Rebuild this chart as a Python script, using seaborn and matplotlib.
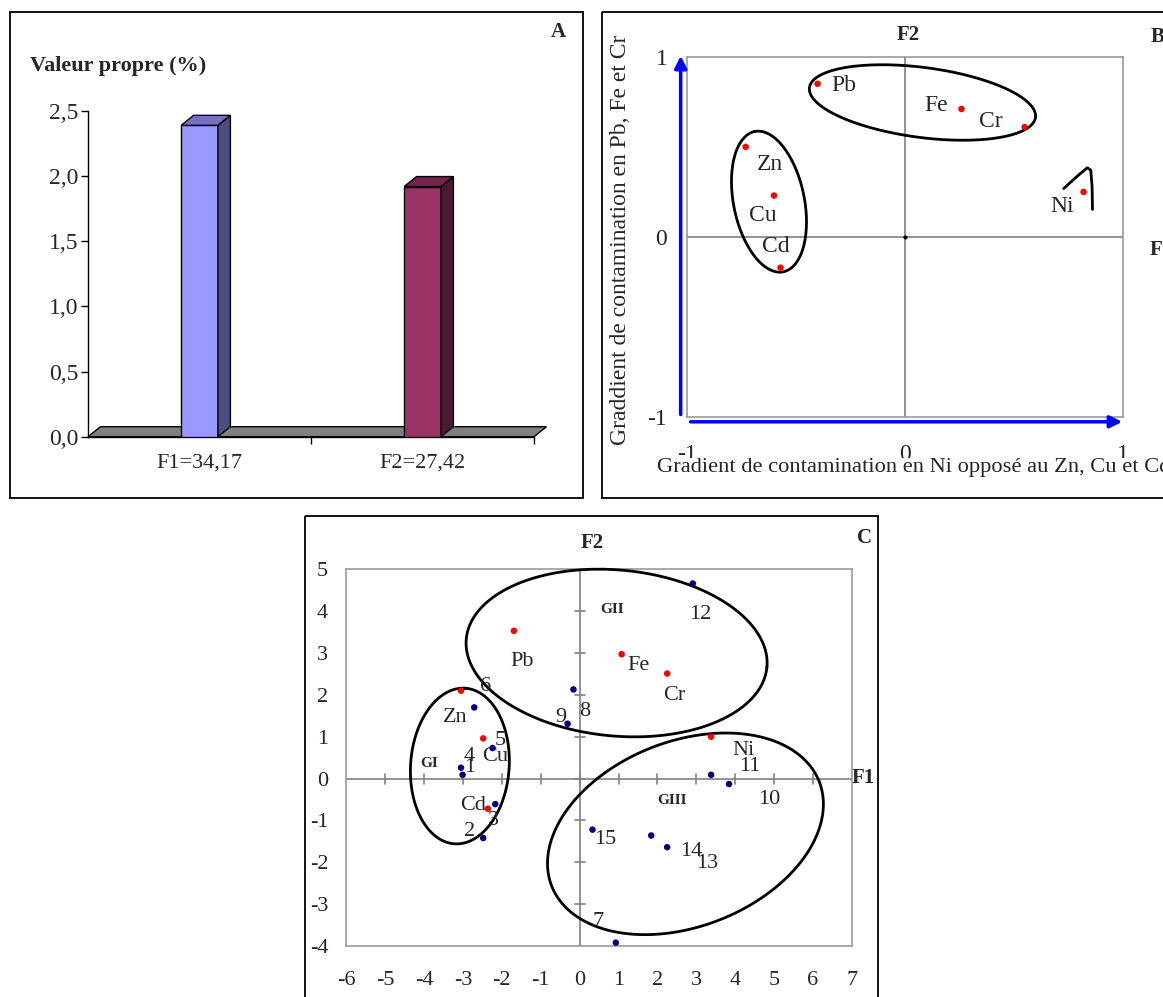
import numpy as np
import matplotlib
matplotlib.use("Agg")
import matplotlib.pyplot as plt
from matplotlib.patches import Polygon, Rectangle
from matplotlib.ticker import FuncFormatter
import seaborn as sns
import pandas as pd

# panel A - valeurs propres
axes_names = ["F1=34,17", "F2=27,42"]
eigen_values = [2.39, 1.92]
bar_colors = ["#9999FF", "#993366"]
side_colors = ["#4D4D80", "#4D1A33"]
top_colors = ["#7373BF", "#73264D"]

# panel B - metaux sur F1/F2
metals = ["Pb", "Fe", "Cr", "Zn", "Cu", "Cd", "Ni"]
corr_f1 = [-0.40, 0.26, 0.55, -0.73, -0.60, -0.57, 0.82]
corr_f2 = [0.85, 0.71, 0.61, 0.50, 0.23, -0.17, 0.25]

# panel C - metaux + stations
metal_f1 = [-1.69, 1.08, 2.25, -3.05, -2.48, -2.36, 3.38]
metal_f2 = [3.53, 2.97, 2.51, 2.10, 0.96, -0.72, 1.00]
sites = [str(i) for i in range(1, 16)]
site_f1 = [-3.01, -2.48, -2.17, -3.05, -2.24, -2.71, 0.93, -0.16, -0.31, 3.84, 3.38, 2.91, 1.84, 2.25, 0.33]
site_f2 = [0.09, -1.42, -0.61, 0.26, 0.73, 1.70, -3.92, 2.13, 1.31, -0.13, 0.09, 4.66, -1.36, -1.64, -1.22]

# label placement (layout only)
b_label_pos = [(-0.28, 0.84), (0.145, 0.73), (0.395, 0.64), (-0.62, 0.40), (-0.65, 0.12), (-0.59, -0.05), (0.72, 0.17)]
c_metal_pos = [(-1.49, 2.79), (1.52, 2.71), (2.43, 1.98), (-3.20, 1.45), (-2.17, 0.52), (-2.74, -0.64), (4.21, 0.68)]
c_site_pos = [(-2.82, 0.26), (-2.83, -1.26), (-2.22, -0.99), (-2.84, 0.52), (-2.03, 0.92), (-2.43, 2.20),
              (0.47, -3.41), (0.12, 1.60), (-0.48, 1.45), (4.88, -0.51), (4.38, 0.30), (3.10, 3.91),
              (3.27, -2.02), (2.86, -1.74), (0.67, -1.46)]

sns.set_theme(style="white")
plt.rcParams['font.family'] = ['Liberation Serif', 'DejaVu Serif']
plt.rcParams['axes.unicode_minus'] = False
FS = 16
FSB = 17

W, H = 1163, 997
fig = plt.figure(figsize=(W / 100, H / 100), dpi=100)


def box(x0, y0, x1, y1):
    return [x0 / W, 1 - y1 / H, (x1 - x0) / W, (y1 - y0) / H]


def ellipse(ax, cx, cy, a, b, ang):
    # ellipse drawn in pixel space so it keeps its shape
    t = np.linspace(0, 2 * np.pi, 300)
    c = ax.transData.transform((cx, cy))
    r = np.deg2rad(ang)
    px = c[0] + a * np.cos(t) * np.cos(r) - b * np.sin(t) * np.sin(r)
    py = c[1] + a * np.cos(t) * np.sin(r) + b * np.sin(t) * np.cos(r)
    d = ax.transData.inverted().transform(np.column_stack([px, py]))
    ax.plot(d[:, 0], d[:, 1], color='black', lw=2, clip_on=False, zorder=4)


# background: frames and free text
bg = fig.add_axes([0, 0, 1, 1])
bg.set_xlim(0, W)
bg.set_ylim(H, 0)
bg.axis('off')
for x0, y0, x1, y1 in [(10, 12, 583, 498), (602, 12, 1175, 498), (305, 516, 878, 1010)]:
    bg.add_patch(Rectangle((x0, y0), x1 - x0, y1 - y0, fill=False, ec='black', lw=1.3))
bg.text(558, 32, "A", fontsize=15, fontweight='bold', ha='center', va='center')
bg.text(1151, 37, "B", fontsize=15, fontweight='bold', ha='left', va='center')
bg.text(908, 35, "F2", fontsize=15, fontweight='bold', ha='center', va='center')
bg.text(1150, 250, "F1", fontsize=15, fontweight='bold', ha='left', va='center')
bg.text(864, 538, "C", fontsize=15, fontweight='bold', ha='center', va='center')
bg.text(592, 543, "F2", fontsize=15, fontweight='bold', ha='center', va='center')
bg.text(863, 778, "F1", fontsize=15, fontweight='bold', ha='center', va='center')
bg.text(30, 66, "Valeur propre (%)", fontsize=16, fontweight='bold', ha='left', va='center')

# ---------------- A
axA = fig.add_axes(box(88, 111, 534, 436.7))
df = pd.DataFrame({'axe': axes_names, 'val': eigen_values})
sns.barplot(data=df, x='axe', y='val', hue='axe', palette=bar_colors, width=0.165, saturation=1,
            edgecolor='black', linewidth=1, legend=False, ax=axA, zorder=3)
axA.set_xlim(-0.5, 1.5)
axA.set_ylim(0, 2.5)
bars = list(axA.patches)
sx = (axA.transData.inverted().transform((12.5, 0)) - axA.transData.inverted().transform((0, 0)))[0]
sy = (axA.transData.inverted().transform((0, 10)) - axA.transData.inverted().transform((0, 0)))[1]
axA.add_patch(Polygon([(-0.5, 0), (1.5, 0), (1.5 + sx, sy), (-0.5 + sx, sy)], closed=True,
                      fc='#808080', ec='black', lw=1, zorder=1, clip_on=False))
for i, p in enumerate(bars):
    x0, x1, h = p.get_x(), p.get_x() + p.get_width(), p.get_height()
    axA.add_patch(Polygon([(x1, 0), (x1 + sx, sy), (x1 + sx, h + sy), (x1, h)], closed=True,
                          fc=side_colors[i], ec='black', lw=1, zorder=3, clip_on=False))
    axA.add_patch(Polygon([(x0, h), (x0 + sx, h + sy), (x1 + sx, h + sy), (x1, h)], closed=True,
                          fc=top_colors[i], ec='black', lw=1, zorder=3, clip_on=False))
axA.set_xlabel("")
axA.set_ylabel("")
axA.set_yticks([0, 0.5, 1.0, 1.5, 2.0, 2.5])
axA.yaxis.set_major_formatter(FuncFormatter(lambda v, p: f"{v:.1f}".replace('.', ',')))
axA.set_xticks([0.5, 1.5], minor=True)
axA.tick_params(axis='y', left=True, length=5, width=1, direction='out', pad=2, labelsize=FSB, color='black')
axA.tick_params(axis='x', which='major', length=0, pad=12, labelsize=FS)
axA.tick_params(axis='x', which='minor', bottom=True, length=5, width=1, direction='out', color='black')
for s in ['top', 'right']:
    axA.spines[s].set_visible(False)
for s in ['left', 'bottom']:
    axA.spines[s].set_color('black')
    axA.spines[s].set_linewidth(1)
axA.patch.set_alpha(0)

# ---------------- B
axB = fig.add_axes(box(686.8, 56.7, 1122.8, 417.3))
axB.set_xlim(-1, 1)
axB.set_ylim(-1, 1)
axB.axhline(0, color='#808080', lw=1.2, zorder=1)
axB.axvline(0, color='#808080', lw=1.2, zorder=1)
sns.scatterplot(x=corr_f1, y=corr_f2, color='#FF0000', s=22, edgecolor='none', ax=axB, zorder=5)
axB.scatter([0], [0], color='black', s=4, zorder=5)
for name, (tx, ty) in zip(metals, b_label_pos):
    axB.text(tx, ty, name, fontsize=FSB, ha='center', va='center', zorder=6)
ellipse(axB, 0.081, 0.746, 114, 35, -7.5)
ellipse(axB, -0.623, 0.196, 71.6, 35.4, 101.5)
# Ni hook
hook_x = [0.729, 0.790, 0.837, 0.853, 0.859, 0.861]
hook_y = [0.269, 0.336, 0.384, 0.371, 0.283, 0.153]
axB.plot(hook_x, hook_y, color='black', lw=2, zorder=4)
axB.annotate("", xy=(-1.028, 1.02), xytext=(-1.028, -1.0),
             arrowprops=dict(arrowstyle='-|>', color='#0000FF', lw=2.5, mutation_scale=18), annotation_clip=False)
axB.annotate("", xy=(1.01, -1.025), xytext=(-0.995, -1.025),
             arrowprops=dict(arrowstyle='-|>', color='#0000FF', lw=2.5, mutation_scale=18), annotation_clip=False)
axB.set_xticks([-1, 0, 1])
axB.set_yticks([-1, 0, 1])
axB.set_xticklabels(["-1", "0", "1"])
axB.set_yticklabels(["-1", "0", "1"])
axB.tick_params(axis='both', length=0, labelsize=FSB)
axB.tick_params(axis='x', pad=19)
axB.tick_params(axis='y', pad=14)
for s in axB.spines.values():
    s.set_color('#999999')
    s.set_linewidth(1.2)
axB.set_xlabel("Gradient de contamination en Ni opposé au Zn, Cu et Cd", fontsize=16.2, ha='left',
               bbox=dict(facecolor='white', edgecolor='none', pad=0))
axB.xaxis.set_label_coords((657 - 686.8) / 436, (417.3 - 458) / 360.6)
axB.set_ylabel("Graddient de contamination en Pb, Fe et Cr", fontsize=FSB)
axB.yaxis.set_label_coords((630.5 - 686.8) / 436, (417.3 - 240) / 360.6)

# ---------------- C
axC = fig.add_axes(box(346.3, 569.3, 851.9, 946))
axC.set_xlim(-6, 7)
axC.set_ylim(-4, 5)
axC.axhline(0, color='#808080', lw=1.2, zorder=1)
axC.axvline(0, color='#808080', lw=1.2, zorder=1)
for v in range(-5, 7):
    axC.plot([v, v], [-0.12, 0.12], color='#808080', lw=1.2, zorder=1)
for v in range(-3, 5):
    axC.plot([-0.13, 0.13], [v, v], color='#808080', lw=1.2, zorder=1)
sns.scatterplot(x=metal_f1, y=metal_f2, color='#FF0000', s=22, edgecolor='none', ax=axC, zorder=5)
sns.scatterplot(x=site_f1, y=site_f2, color='#000080', s=22, edgecolor='none', ax=axC, zorder=5)
for name, (tx, ty) in zip(metals, c_metal_pos):
    axC.text(tx, ty, name, fontsize=FS, ha='center', va='center', zorder=6)
for name, (tx, ty) in zip(sites, c_site_pos):
    axC.text(tx, ty, name, fontsize=FS, ha='center', va='center', zorder=6)
axC.text(-3.86, 0.37, "GI", fontsize=11, fontweight='bold', ha='center', va='center')
axC.text(0.84, 4.03, "GII", fontsize=11, fontweight='bold', ha='center', va='center')
axC.text(2.38, -0.53, "GIII", fontsize=11, fontweight='bold', ha='center', va='center')
ellipse(axC, 0.95, 3.0, 151, 83, -5.4)
ellipse(axC, -3.08, 0.30, 78, 49.3, 86)
ellipse(axC, 2.72, -1.32, 143.6, 92.6, 21.3)
axC.set_xticks(range(-6, 8))
axC.set_yticks(range(-4, 6))
axC.tick_params(axis='both', length=0, labelsize=FS)
axC.tick_params(axis='x', pad=18)
axC.tick_params(axis='y', pad=13)
for s in axC.spines.values():
    s.set_color('#999999')
    s.set_linewidth(1.2)

fig.savefig("out.png", dpi=100)
